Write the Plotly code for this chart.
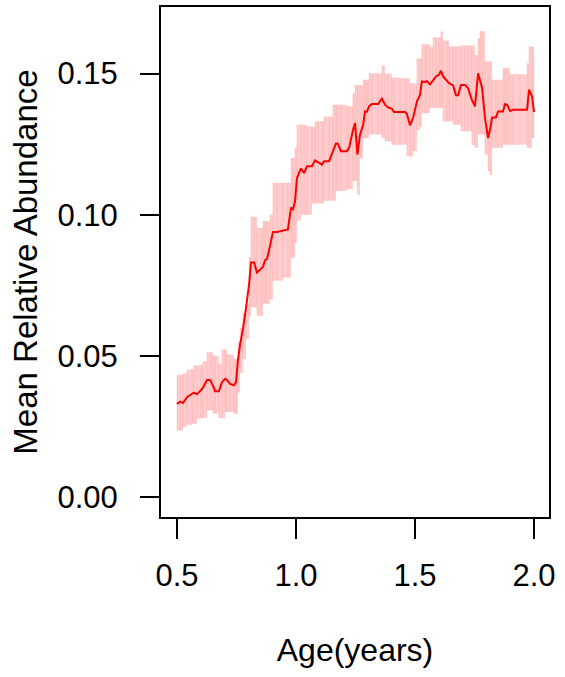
import plotly.graph_objects as go

age = [0.500, 0.513, 0.525, 0.542, 0.563, 0.571, 0.584, 0.601, 0.609, 0.626,
       0.639, 0.651, 0.660, 0.676, 0.689, 0.702, 0.710, 0.723, 0.739, 0.748,
       0.756, 0.765, 0.777, 0.790, 0.803, 0.811, 0.824, 0.836, 0.853, 0.861,
       0.870, 0.878, 0.891, 0.903, 0.920, 0.945, 0.966, 0.979, 0.987, 0.996,
       1.004, 1.021, 1.034, 1.046, 1.067, 1.080, 1.092, 1.109, 1.118, 1.139,
       1.155, 1.168, 1.176, 1.189, 1.214, 1.223, 1.239, 1.248, 1.258, 1.269,
       1.282, 1.290, 1.298, 1.307, 1.319, 1.345, 1.361, 1.374, 1.387, 1.403,
       1.412, 1.437, 1.458, 1.466, 1.479, 1.492, 1.508, 1.521, 1.529, 1.542,
       1.550, 1.563, 1.576, 1.588, 1.601, 1.609, 1.618, 1.634, 1.643, 1.660,
       1.672, 1.681, 1.693, 1.710, 1.723, 1.739, 1.752, 1.765, 1.773, 1.782,
       1.794, 1.807, 1.815, 1.824, 1.840, 1.849, 1.870, 1.878, 1.887, 1.899,
       1.912, 1.941, 1.971, 1.979, 1.992, 2.000]

mean_abund = [0.0330, 0.0338, 0.0333, 0.0354, 0.0366, 0.0370, 0.0364, 0.0382, 0.0387, 0.0415,
              0.0415, 0.0395, 0.0375, 0.0375, 0.0407, 0.0419, 0.0415, 0.0401, 0.0396, 0.0407,
              0.0484, 0.0540, 0.0595, 0.0670, 0.0754, 0.0831, 0.0831, 0.0795, 0.0807, 0.0815,
              0.0839, 0.0843, 0.0890, 0.0939, 0.0939, 0.0943, 0.0948, 0.1025, 0.1019, 0.1048,
              0.1130, 0.1164, 0.1148, 0.1172, 0.1172, 0.1193, 0.1187, 0.1178, 0.1190, 0.1190,
              0.1225, 0.1253, 0.1251, 0.1225, 0.1225, 0.1237, 0.1298, 0.1325, 0.1213, 0.1284,
              0.1319, 0.1366, 0.1365, 0.1384, 0.1392, 0.1392, 0.1411, 0.1390, 0.1380, 0.1375,
              0.1364, 0.1364, 0.1364, 0.1357, 0.1317, 0.1343, 0.1401, 0.1425, 0.1472, 0.1470,
              0.1474, 0.1462, 0.1478, 0.1490, 0.1496, 0.1510, 0.1490, 0.1474, 0.1466, 0.1458,
              0.1423, 0.1423, 0.1460, 0.1460, 0.1448, 0.1407, 0.1384, 0.1501, 0.1478, 0.1448,
              0.1343, 0.1272, 0.1300, 0.1345, 0.1345, 0.1366, 0.1366, 0.1392, 0.1390, 0.1368,
              0.1372, 0.1372, 0.1372, 0.1443, 0.1419, 0.1364]

lower_ci = [0.0236, 0.0236, 0.0248, 0.0255, 0.0260, 0.0260, 0.0278, 0.0278, 0.0280, 0.0307,
            0.0307, 0.0296, 0.0296, 0.0279, 0.0279, 0.0301, 0.0301, 0.0301, 0.0295, 0.0295,
            0.0370, 0.0440, 0.0490, 0.0560, 0.0640, 0.0672, 0.0672, 0.0642, 0.0642, 0.0685,
            0.0685, 0.0685, 0.0700, 0.0766, 0.0766, 0.0778, 0.0778, 0.0848, 0.0848, 0.0900,
            0.0980, 0.1000, 0.1000, 0.1000, 0.1040, 0.1040, 0.1040, 0.1040, 0.1050, 0.1050,
            0.1050, 0.1084, 0.1084, 0.1084, 0.1090, 0.1090, 0.1120, 0.1120, 0.1070, 0.1200,
            0.1272, 0.1272, 0.1272, 0.1284, 0.1284, 0.1284, 0.1272, 0.1260, 0.1260, 0.1248,
            0.1248, 0.1248, 0.1248, 0.1207, 0.1207, 0.1225, 0.1300, 0.1310, 0.1360, 0.1360,
            0.1360, 0.1378, 0.1378, 0.1378, 0.1378, 0.1378, 0.1331, 0.1331, 0.1331, 0.1319,
            0.1319, 0.1319, 0.1296, 0.1296, 0.1296, 0.1248, 0.1237, 0.1284, 0.1284, 0.1284,
            0.1213, 0.1154, 0.1140, 0.1237, 0.1237, 0.1237, 0.1248, 0.1248, 0.1248, 0.1248,
            0.1248, 0.1248, 0.1237, 0.1237, 0.1272, 0.1272]

upper_ci = [0.0433, 0.0433, 0.0439, 0.0452, 0.0452, 0.0466, 0.0466, 0.0470, 0.0481, 0.0513,
            0.0513, 0.0501, 0.0501, 0.0472, 0.0522, 0.0522, 0.0505, 0.0505, 0.0490, 0.0490,
            0.0550, 0.0600, 0.0650, 0.0685, 0.0850, 0.0993, 0.0993, 0.0954, 0.0954, 0.0978,
            0.0978, 0.0978, 0.1000, 0.1113, 0.1113, 0.1113, 0.1113, 0.1201, 0.1201, 0.1237,
            0.1319, 0.1319, 0.1319, 0.1313, 0.1313, 0.1331, 0.1331, 0.1331, 0.1348, 0.1348,
            0.1390, 0.1390, 0.1390, 0.1390, 0.1384, 0.1384, 0.1430, 0.1460, 0.1460, 0.1460,
            0.1478, 0.1478, 0.1478, 0.1501, 0.1501, 0.1501, 0.1528, 0.1500, 0.1500, 0.1486,
            0.1486, 0.1484, 0.1484, 0.1484, 0.1466, 0.1466, 0.1554, 0.1554, 0.1604, 0.1604,
            0.1604, 0.1596, 0.1628, 0.1628, 0.1628, 0.1649, 0.1617, 0.1617, 0.1596, 0.1596,
            0.1596, 0.1596, 0.1600, 0.1600, 0.1600, 0.1600, 0.1567, 0.1625, 0.1650, 0.1650,
            0.1543, 0.1543, 0.1543, 0.1478, 0.1478, 0.1478, 0.1519, 0.1519, 0.1519, 0.1498,
            0.1498, 0.1498, 0.1537, 0.1596, 0.1596, 0.1565]

x_ticks = [0.5, 1.0, 1.5, 2.0]
x_ticklabels = ["0.5", "1.0", "1.5", "2.0"]
y_ticks = [0.00, 0.05, 0.10, 0.15]
y_ticklabels = ["0.00", "0.05", "0.10", "0.15"]

BAND = "rgb(255,205,205)"
STREAK = "rgba(245,120,120,0.22)"
LINE = "#FF0000"
FONT = "Liberation Sans, Arial, sans-serif"

fig = go.Figure()
fig.add_trace(go.Scatter(x=age, y=lower_ci, mode="lines", line=dict(width=0, shape="hv", color=BAND),
                         showlegend=False, hoverinfo="skip"))
fig.add_trace(go.Scatter(x=age, y=upper_ci, mode="lines", line=dict(width=0, shape="hv", color=BAND),
                         fill="tonexty", fillcolor=BAND, showlegend=False, hoverinfo="skip"))
plus = [u - m for u, m in zip(upper_ci, mean_abund)]
minus = [m - l for m, l in zip(mean_abund, lower_ci)]
fig.add_trace(go.Scatter(x=age, y=mean_abund, mode="markers", marker=dict(size=0.1, color="rgba(0,0,0,0)"),
                         error_y=dict(type="data", array=plus, arrayminus=minus, symmetric=False,
                                      color=STREAK, thickness=1, width=0),
                         showlegend=False, hoverinfo="skip"))
fig.add_trace(go.Scatter(x=age, y=mean_abund, mode="lines", line=dict(color=LINE, width=2),
                         showlegend=False))

fig.update_layout(
    width=565, height=677,
    margin=dict(l=161, r=16, t=5, b=160),
    paper_bgcolor="white", plot_bgcolor="white",
    font=dict(family=FONT, size=31, color="black"),
    xaxis=dict(range=[0.4328, 2.063], tickvals=x_ticks, ticktext=x_ticklabels,
               ticks="outside", ticklen=20, tickwidth=2, tickcolor="black",
               showgrid=False, zeroline=False, showline=True, linecolor="black", linewidth=2,
               mirror=True, tickfont=dict(size=31), ticklabelstandoff=10,
               title=dict(text="Age(years)", font=dict(size=32), standoff=46)),
    yaxis=dict(range=[-0.00706, 0.1736], tickvals=y_ticks, ticktext=y_ticklabels,
               ticks="outside", ticklen=19, tickwidth=2, tickcolor="black",
               showgrid=False, zeroline=False, showline=True, linecolor="black", linewidth=2,
               mirror=True, tickfont=dict(size=31), ticklabelstandoff=16,
               title=dict(text="Mean Relative Abundance", font=dict(size=33), standoff=10)),
)

fig.write_html("out.html")
